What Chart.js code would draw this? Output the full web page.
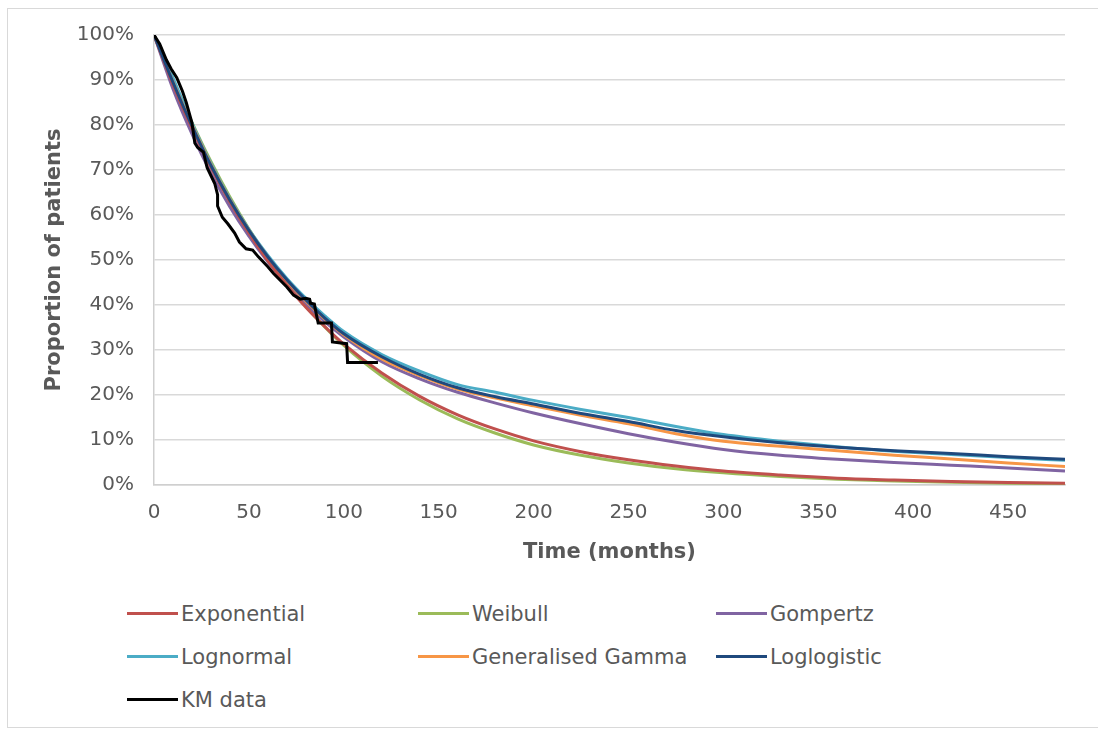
<!DOCTYPE html>
<html>
<head>
<meta charset="utf-8">
<script src="https://cdn.jsdelivr.net/npm/chart.js@4.4.1/dist/chart.umd.min.js"></script>
<style>
  body { margin: 0; background: #fff; font-family: "DejaVu Sans", sans-serif; }
  #frame { position: absolute; left: 7px; top: 8px; width: 1100px; height: 718px; border: 1px solid #d9d9d9; }
  #survChart { position: absolute; left: 0; top: 0; }
  #legend { position: absolute; left: 127px; top: 592px; display: grid;
            grid-template-columns: 291px 298px auto; grid-auto-rows: 43px;
            color: #595959; font-size: 21px; }
  .item { display: flex; align-items: center; white-space: nowrap; }
  .swatch { width: 51px; height: 3px; margin-right: 3px; }
</style>
</head>
<body>
<div id="frame"></div>
<canvas id="survChart" width="1098" height="580"></canvas>
<div id="legend"></div>
<script>
// Tempo (meses) dos modelos ajustados
const times = [0, 10, 20, 30, 40, 50, 60, 70, 80, 90, 100, 120, 140, 160, 180, 200, 225, 250, 275, 300, 330, 360, 390, 420, 450, 480];

// Sobrevida estimada (%) por modelo
const exponential = [100, 89.0, 79.3, 70.6, 62.9, 56.0, 49.8, 44.4, 39.5, 35.2, 31.3, 24.9, 19.7, 15.6, 12.4, 9.8, 7.4, 5.6, 4.2, 3.1, 2.2, 1.5, 1.1, 0.77, 0.54, 0.38];
const weibull = [100, 90.0, 80.6, 71.9, 64.0, 56.9, 50.5, 44.8, 39.7, 35.1, 31.0, 24.2, 18.9, 14.7, 11.5, 8.9, 6.6, 4.9, 3.6, 2.7, 1.9, 1.3, 0.9, 0.6, 0.4, 0.28];
const gompertz = [100, 88.0, 78.0, 69.3, 61.8, 55.3, 49.6, 44.6, 40.2, 36.3, 32.9, 27.4, 23.6, 20.6, 18.2, 16.0, 13.6, 11.4, 9.5, 7.9, 6.6, 5.7, 5.0, 4.4, 3.8, 3.1];
const lognormal = [100, 90.5, 80.5, 71.5, 63.6, 56.8, 51.0, 45.9, 41.5, 37.6, 34.1, 29.0, 25.3, 22.3, 20.6, 18.8, 16.8, 15.0, 13.0, 11.2, 9.7, 8.5, 7.5, 6.8, 6.1, 5.5];
const genGamma = [100, 89.6, 80.0, 71.2, 63.4, 56.6, 50.6, 45.4, 40.9, 36.9, 33.4, 28.0, 24.3, 21.3, 19.3, 17.6, 15.5, 13.6, 11.4, 9.7, 8.6, 7.6, 6.6, 5.8, 4.9, 4.1];
const loglogistic = [100, 89.5, 79.8, 71.0, 63.3, 56.6, 50.7, 45.6, 41.1, 37.1, 33.6, 28.5, 24.6, 21.6, 19.6, 18.0, 15.9, 14.1, 12.1, 10.7, 9.4, 8.4, 7.6, 7.0, 6.3, 5.7];

// Curva de Kaplan-Meier observada
const kmTime = [0, 3, 6.5, 9, 12, 15, 17, 20, 21.5, 23, 26, 28, 32, 33.5, 33.5, 36, 39, 42.5, 45, 48.5, 52, 55, 60, 63, 66.5, 70, 73.5, 77, 80, 82, 82.5, 84.5, 85.5, 86.5, 93.5, 94, 101.5, 102, 118];
const kmSurv = [100, 98, 94.5, 92.5, 90.5, 87.5, 85, 80.5, 76, 75, 74, 70.5, 67, 64.5, 62, 59.5, 58, 56, 54, 52.5, 52.2, 50.7, 48.5, 47, 45.5, 44, 42.2, 41.3, 41.5, 41.3, 40.4, 40.2, 38, 36, 36, 31.8, 31.4, 27.2, 27.2];

const yTicks = [0, 10, 20, 30, 40, 50, 60, 70, 80, 90, 100];
const xTicks = [0, 50, 100, 150, 200, 250, 300, 350, 400, 450];

const textColor = '#595959';

function toPoints(xs, ys) {
    return xs.map((t, i) => ({ x: t, y: ys[i] }));
}

function modelSet(label, values, color, order) {
    return {
        label: label,
        data: toPoints(times, values),
        borderColor: color,
        backgroundColor: color,
        borderWidth: 3,
        cubicInterpolationMode: 'monotone',
        order: order
    };
}

const datasets = [
    modelSet('Exponential', exponential, '#c0504d', 2),
    modelSet('Weibull', weibull, '#9bbb59', 6),
    modelSet('Gompertz', gompertz, '#8064a2', 5),
    modelSet('Lognormal', lognormal, '#4bacc6', 4),
    modelSet('Generalised Gamma', genGamma, '#f79646', 3),
    modelSet('Loglogistic', loglogistic, '#1f497d', 1),
    {
        label: 'KM data',
        data: toPoints(kmTime, kmSurv),
        borderColor: '#000000',
        backgroundColor: '#000000',
        borderWidth: 3,
        tension: 0,
        order: 0
    }
];

const ctx = document.getElementById('survChart').getContext('2d');
const chart = new Chart(ctx, {
    type: 'line',
    data: { datasets: datasets },
    options: {
        responsive: false,
        animation: false,
        layout: { padding: { left: 0, top: 35, right: 33, bottom: 15 } },
        elements: { point: { radius: 0 } },
        plugins: {
            legend: { display: false },
            tooltip: { enabled: false }
        },
        scales: {
            x: {
                type: 'linear',
                min: 0,
                max: 480,
                afterBuildTicks: (scale) => { scale.ticks = xTicks.map(v => ({ value: v })); },
                afterFit: (scale) => { scale.height = 80; },
                ticks: {
                    color: textColor,
                    font: { family: 'DejaVu Sans', size: 20 },
                    padding: 16,
                    maxRotation: 0
                },
                grid: { display: false, drawTicks: false },
                border: { display: true, color: '#cfcfcf', width: 1.5 },
                title: {
                    display: true,
                    text: 'Time (months)',
                    color: textColor,
                    font: { family: 'DejaVu Sans', size: 21, weight: 'bold' },
                    padding: { top: 3, bottom: 0 }
                }
            },
            y: {
                min: 0,
                max: 100,
                afterBuildTicks: (scale) => { scale.ticks = yTicks.map(v => ({ value: v })); },
                afterFit: (scale) => { scale.width = 154; },
                ticks: {
                    color: textColor,
                    font: { family: 'DejaVu Sans', size: 20 },
                    padding: 20,
                    callback: (v) => v + '%'
                },
                grid: { color: '#d9d9d9', lineWidth: 1.5, drawTicks: false },
                border: { display: true, color: '#cfcfcf', width: 1.5 },
                title: {
                    display: true,
                    text: 'Proportion of patients',
                    color: textColor,
                    font: { family: 'DejaVu Sans', size: 21, weight: 'bold' },
                    padding: { top: 42, bottom: 0 }
                }
            }
        }
    }
});

// Legenda em três colunas
const legendEl = document.getElementById('legend');
chart.data.datasets.forEach((ds) => {
    const item = document.createElement('div');
    item.className = 'item';
    const swatch = document.createElement('span');
    swatch.className = 'swatch';
    swatch.style.background = ds.borderColor;
    const text = document.createElement('span');
    text.textContent = ds.label;
    item.appendChild(swatch);
    item.appendChild(text);
    legendEl.appendChild(item);
});
</script>
</body>
</html>
